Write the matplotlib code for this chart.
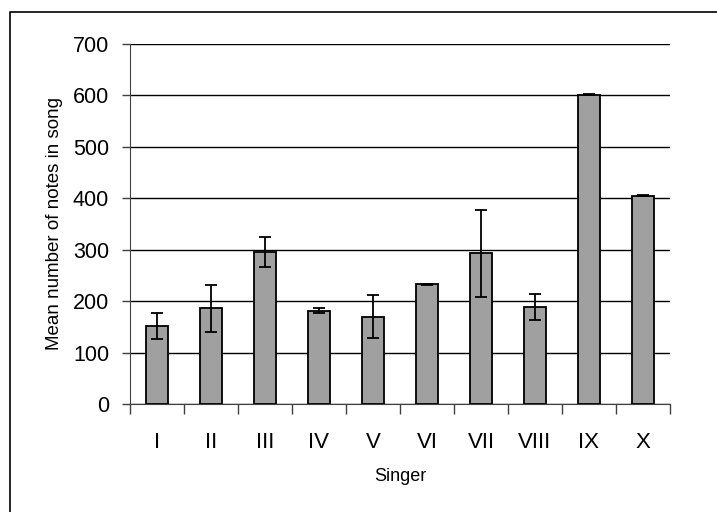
import numpy as np
import matplotlib
matplotlib.use("Agg")
import matplotlib.pyplot as plt
from matplotlib.lines import Line2D

singers = ["I", "II", "III", "IV", "V", "VI", "VII", "VIII", "IX", "X"]
mean_notes = [152, 186, 295, 181, 170, 233, 293, 188, 601, 405]
err_notes = [25, 46, 29, 5, 41, 1, 84, 25, 1, 1]

plt.rcParams['font.family'] = ['Liberation Sans', 'DejaVu Sans']

fig = plt.figure(figsize=(7.17, 5.12), dpi=100)
ax = fig.add_axes([0.1813, 0.2109, 0.7531, 0.7032])

# outer border, only its top and left edges are inside the picture
bx, by = 9.5 / 717, (512 - 11.5) / 512
fig.lines.append(Line2D([bx, bx, 1.0], [0.0, by, by], transform=fig.transFigure,
                        color='black', linewidth=1.2))

x = np.arange(len(singers))
ax.bar(x, mean_notes, width=0.41, color='#a0a0a0', edgecolor='black', linewidth=1.3, zorder=3)
ax.errorbar(x, mean_notes, yerr=err_notes, fmt='none', ecolor='black',
            elinewidth=1.3, capsize=4, capthick=1.3, zorder=4)

ax.set_xlim(-0.5, len(singers) - 0.5)
ax.set_ylim(0, 700)
ax.set_yticks(range(0, 701, 100))
ax.yaxis.grid(True, color='black', linewidth=1.0, zorder=0)
ax.set_axisbelow(True)

# category ticks at the boundaries, labels in the middle
ax.set_xticks(np.arange(-0.5, len(singers), 1.0))
ax.set_xticklabels([])
ax.set_xticks(x, minor=True)
ax.set_xticklabels(singers, minor=True, fontsize=16)
ax.tick_params(axis='x', which='major', direction='out', length=7, width=1, color='#404040')
ax.tick_params(axis='x', which='minor', length=0, pad=20)
ax.tick_params(axis='y', direction='out', length=6, width=1, color='#404040', labelsize=15.5, pad=9)

for s in ['top', 'right']:
    ax.spines[s].set_visible(False)
ax.spines['left'].set_color('#404040')
ax.spines['bottom'].set_color('#404040')

ax.set_ylabel('Mean number of notes in song', fontsize=13.5, labelpad=7)
ax.set_xlabel('Singer', fontsize=13, labelpad=11)

fig.savefig('out.png', dpi=100)
